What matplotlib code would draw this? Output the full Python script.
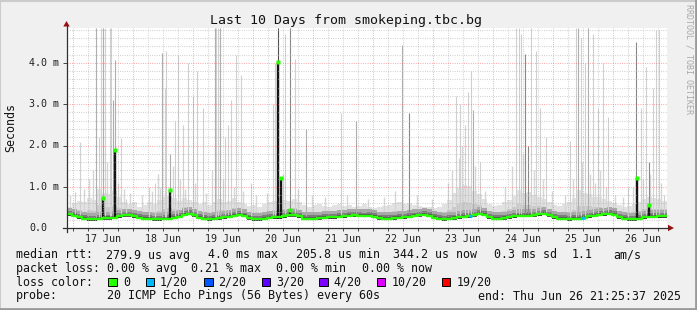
import numpy as np
import matplotlib
matplotlib.use("Agg")
import matplotlib.pyplot as plt
from matplotlib.patches import Rectangle, Polygon
from matplotlib.lines import Line2D
import matplotlib.transforms as mtransforms

# ---------------- data ----------------
title = "Last 10 Days from smokeping.tbc.bg"
day_labels = ["17 Jun", "18 Jun", "19 Jun", "20 Jun", "21 Jun",
              "22 Jun", "23 Jun", "24 Jun", "25 Jun", "26 Jun"]
span_hours = 240.0            # Jun 16 21:25:37 .. Jun 26 21:25:37
first_midnight = 2.573        # hours from start to Jun 17 00:00

y_ticks = [0, 1, 2, 3, 4]
y_tick_labels = ["0.0", "1.0 m", "2.0 m", "3.0 m", "4.0 m"]

# median rtt (ms), one value per 2 hours from the start
median_step = 2.0
median_ms = [0.33, 0.30, 0.26, 0.22, 0.21, 0.21, 0.22, 0.24, 0.24, 0.25,
             0.28, 0.31, 0.31, 0.28, 0.25, 0.23, 0.22, 0.21, 0.21, 0.22,
             0.23, 0.25, 0.27, 0.32, 0.34, 0.31, 0.25, 0.22, 0.21, 0.22,
             0.24, 0.26, 0.27, 0.30, 0.32, 0.29, 0.24, 0.21, 0.21, 0.23,
             0.25, 0.26, 0.26, 0.28, 0.31, 0.31, 0.28, 0.23, 0.22, 0.23,
             0.24, 0.25, 0.26, 0.26, 0.27, 0.28, 0.30, 0.31, 0.30, 0.29,
             0.30, 0.27, 0.24, 0.23, 0.23, 0.24, 0.25, 0.26, 0.27, 0.29,
             0.31, 0.32, 0.30, 0.25, 0.22, 0.21, 0.22, 0.24, 0.26, 0.27,
             0.28, 0.31, 0.34, 0.32, 0.26, 0.22, 0.22, 0.24, 0.26, 0.28,
             0.29, 0.29, 0.30, 0.31, 0.33, 0.34, 0.31, 0.26, 0.23, 0.22,
             0.21, 0.22, 0.23, 0.25, 0.28, 0.30, 0.32, 0.33, 0.34, 0.32,
             0.26, 0.22, 0.21, 0.21, 0.23, 0.26, 0.27, 0.27, 0.28, 0.28]

# upper edge of the light smoke (ms), one value per 2 hours
smoke_top_ms = [0.52, 0.60, 0.66, 0.62, 0.72, 0.68, 0.95, 0.86, 0.82, 0.90,
                0.76, 0.62, 0.58, 0.62, 0.52, 0.56, 0.62, 0.58, 0.68, 0.74,
                0.78, 0.72, 0.66, 0.72, 0.68, 0.62, 0.58, 0.62, 0.56, 0.62,
                0.70, 0.64, 0.66, 0.72, 0.62, 0.58, 0.54, 0.56, 0.52, 0.58,
                0.62, 0.66, 0.72, 0.68, 0.66, 0.70, 0.62, 0.56, 0.52, 0.56,
                0.58, 0.54, 0.52, 0.56, 0.58, 0.54, 0.56, 0.52, 0.54, 0.58,
                0.52, 0.48, 0.50, 0.54, 0.56, 0.60, 0.62, 0.58, 0.60, 0.56,
                0.54, 0.52, 0.50, 0.48, 0.52, 0.58, 0.68, 0.86, 0.96, 1.05,
                1.02, 0.90, 0.82, 0.70, 0.58, 0.54, 0.56, 0.62, 0.68, 0.78,
                0.92, 0.86, 0.88, 0.80, 0.76, 0.70, 0.62, 0.56, 0.54, 0.58,
                0.62, 0.72, 0.92, 0.86, 0.82, 0.76, 0.74, 0.70, 0.66, 0.60,
                0.56, 0.52, 0.54, 0.58, 0.64, 0.70, 0.76, 0.72, 0.70, 0.66]

# single ping outliers (hours from start, top in ms, darkness level 0..3)
spike_t = [3.2, 5.2, 11.9, 12.9, 13.8, 14.4, 15.2, 17.2, 17.9, 18.5,
           19.3, 21.9, 23.9, 32.8, 35.2, 38.0, 39.2, 39.9, 41.3, 43.2,
           44.5, 46.5, 48.5, 50.5, 52.3, 54.5, 59.2, 59.9, 60.5, 61.2,
           63.2, 64.5, 65.9, 67.6, 69.9, 73.9, 82.5, 83.2, 84.6, 87.2,
           89.2, 91.2, 95.9, 109.9, 115.9, 134.1, 136.8, 155.9, 157.2, 159.2,
           160.5, 161.9, 162.5, 165.2, 179.9, 180.8, 181.9, 183.2, 184.5, 185.9,
           187.9, 189.2, 191.9, 201.2, 203.9, 204.5, 205.9, 207.2, 208.5, 210.5,
           212.5, 214.5, 216.5, 224.5, 227.9, 229.9, 231.9, 232.8, 234.5, 235.9,
           236.8, 239.0]
spike_top = [0.88, 2.09, 4.85, 2.20, 4.85, 4.85, 4.85, 4.85, 4.85, 3.10,
             4.07, 2.17, 0.70, 1.00, 1.10, 4.24, 3.40, 4.30, 1.80, 2.60,
             4.20, 2.50, 4.00, 3.20, 3.80, 2.90, 4.85, 4.85, 4.85, 4.85,
             2.20, 2.50, 3.10, 4.20, 3.70, 1.10, 3.00, 4.00, 4.85, 4.70,
             4.85, 4.10, 2.40, 2.80, 2.60, 4.44, 2.80, 3.20, 3.00, 2.50,
             3.30, 3.80, 2.85, 1.60, 4.85, 4.85, 4.70, 4.23, 2.00, 4.85,
             4.30, 2.90, 2.20, 2.10, 4.85, 4.85, 4.60, 4.00, 4.85, 4.70,
             2.90, 4.00, 2.70, 1.00, 4.50, 2.90, 3.90, 1.60, 3.40, 4.80,
             4.80, 0.80]
spike_level = [0, 0, 1, 0, 0, 1, 0, 0, 0, 1,
               1, 0, 0, 0, 0, 1, 0, 0, 1, 0,
               0, 0, 0, 0, 0, 0, 1, 0, 0, 1,
               0, 0, 0, 0, 0, 0, 0, 0, 3, 0,
               2, 0, 1, 0, 1, 1, 2, 0, 0, 0,
               0, 0, 1, 0, 0, 0, 0, 2, 2, 0,
               0, 0, 0, 0, 0, 1, 0, 0, 1, 0,
               0, 0, 0, 0, 2, 0, 0, 2, 0, 0,
               0, 0]

# short light haze streaks above the smoke (hours, top ms)
haze_t = [1.5, 7.0, 9.0, 10.5, 16.2, 20.5, 22.8, 25.5, 30.2, 34.0,
          36.5, 37.2, 42.5, 45.5, 47.2, 51.2, 55.8, 58.0, 62.4, 66.8,
          70.5, 75.8, 80.2, 86.5, 92.5, 98.0, 103.5, 112.0, 120.5, 127.0,
          131.5, 140.2, 146.0, 152.5, 154.2, 156.8, 158.3, 163.4, 167.5, 175.5,
          178.2, 182.6, 186.8, 190.5, 194.2, 199.5, 202.6, 206.2, 209.4, 211.5,
          213.4, 215.6, 219.5, 222.5, 226.5, 230.5, 233.5, 237.8]
haze_top = [0.80, 0.95, 1.20, 1.40, 1.60, 1.10, 0.95, 0.85, 0.80, 0.90,
            1.30, 1.00, 1.50, 1.20, 0.95, 1.10, 0.85, 1.40, 1.20, 1.00,
            0.90, 0.80, 0.85, 1.30, 0.95, 0.80, 0.75, 0.80, 0.70, 0.75,
            0.90, 0.80, 0.70, 1.10, 1.40, 1.70, 2.00, 1.50, 0.90, 1.00,
            1.50, 1.80, 1.40, 1.20, 0.90, 0.80, 1.20, 1.60, 1.30, 1.10,
            1.40, 1.00, 0.80, 0.75, 1.00, 1.20, 1.30, 1.10]

# intervals where the median itself rose (hours, median ms)
bar_t = [14.4, 19.3, 41.3, 84.6, 85.6, 89.2, 228.2, 232.8]
bar_med = [0.73, 1.89, 0.92, 4.03, 1.21, 0.44, 1.21, 0.56]

# packet loss on the median (hours, index into loss colours)
loss_t = [161.5, 206.5]
loss_idx = [1, 1]

loss_labels = ["0", "1/20", "2/20", "3/20", "4/20", "10/20", "19/20"]
loss_colors = ["#26ff00", "#00b8ff", "#0059ff", "#5e00ff",
               "#7e00ff", "#dd00ff", "#ff0000"]

legend_rtt = ["median rtt:", "279.9 us avg", "4.0 ms max", "205.8 us min",
              "344.2 us now", "0.3 ms sd", "1.1", "am/s"]
legend_loss = ["packet loss:", "0.00 % avg", "0.21 % max", "0.00 % min",
               "0.00 % now"]
legend_probe = ["probe:", "20 ICMP Echo Pings (56 Bytes) every 60s",
                "end: Thu Jun 26 21:25:37 2025"]
watermark = "RRDTOOL / TOBI OETIKER"
ylabel = "Seconds"

# ---------------- layout (pixels) ----------------
W, H, DPI = 697, 310, 100
PX_LEFT, PX_RIGHT, PX_TOP, PX_BOTTOM = 66.5, 666.5, 28.0, 228.0
PX_PER_MS = 41.25
MONO = "DejaVu Sans Mono"
LEG_FS = 8.4
TICK_FS = 7.2

rtt_x = [16, 106.5, 208, 296.5, 393, 493.5, 572, 613.5]
loss_x = [16, 107, 191.5, 276.5, 361.5]
probe_x = [16, 107, 478.3]
box_x = [108.3, 145.7, 204.0, 261.7, 319.0, 376.7, 441.7]
boxlab_x = [123.3, 160.0, 218.0, 276.7, 333.0, 391.7, 456.7]
line_base = [258.5, 272.0, 285.5, 299.5]


def fx(x):
    return x / W


def fy(y):
    return 1 - y / H


fig = plt.figure(figsize=(W / DPI, H / DPI), dpi=DPI, facecolor="#f0f0f0")

# 3D border
fig.add_artist(Line2D([fx(0), fx(0)], [fy(0), fy(H)], color="#cbcbcb", lw=1.5))
fig.add_artist(Line2D([fx(0), fx(W)], [fy(0.5), fy(0.5)], color="#cbcbcb", lw=1.5))
fig.add_artist(Line2D([fx(W - 1), fx(W - 1)], [fy(0), fy(H)], color="#9a9a9a", lw=2))
fig.add_artist(Line2D([fx(0), fx(W)], [fy(H - 1), fy(H - 1)], color="#9a9a9a", lw=2))

ax = fig.add_axes([fx(PX_LEFT), fy(PX_BOTTOM), (PX_RIGHT - PX_LEFT) / W,
                   (PX_BOTTOM - PX_TOP) / H])
ax.set_facecolor("white")
ymax = (PX_BOTTOM - PX_TOP) / PX_PER_MS
ax.set_xlim(0, span_hours)
ax.set_ylim(0, ymax)
for s in ax.spines.values():
    s.set_visible(False)

# ---- smoke ----
med = np.array(median_ms)
tm = np.arange(len(med)) * median_step
tx = np.append(tm, span_hours)
medx = np.append(med, med[-1])
top = np.array(smoke_top_ms)
topx = np.append(top, top[-1])
lo = medx - 0.035


def base_at(ts, off):
    ts = np.asarray(ts)
    return med[np.clip((ts // median_step).astype(int), 0, len(med) - 1)] + off


ax.fill_between(tx, lo, topx, step="post", color="#e2e2e2", lw=0, zorder=1)
ht = np.array(haze_t)
ax.vlines(ht, base_at(ht, 0.1), haze_top, colors="#d6d6d6", lw=1.0, zorder=1.05)
ax.fill_between(tx, lo, medx + 0.45 * (topx - medx), step="post",
                color="#cacaca", lw=0, zorder=1.1)
ax.fill_between(tx, lo, medx + 0.16, step="post", color="#a8a8a8", lw=0, zorder=1.2)
ax.fill_between(tx, lo, medx + 0.085, step="post", color="#7c7c7c", lw=0, zorder=1.3)
ax.fill_between(tx, lo, medx + 0.04, step="post", color="#565656", lw=0, zorder=1.35)
ax.fill_between(tx, medx - 0.03, medx + 0.01, step="post", color="#343434",
                lw=0, zorder=1.4)

spike_cols = ["#d0d0d0", "#aeaeae", "#888888", "#505050"]
st = np.array(spike_t)
ax.vlines(st, base_at(st, 0.05), np.minimum(spike_top, ymax),
          colors=[spike_cols[l] for l in spike_level], lw=0.8, zorder=1.5)

bt = np.array(bar_t)
ax.vlines(bt, base_at(bt, -0.03), bar_med, colors="#151515", lw=1.7, zorder=2)

# ---- grid (on top of smoke) ----
dash = (0, (0.8, 1.4))
six = np.arange(first_midnight, span_hours, 6.0)
for t in six:
    k = (t - first_midnight) / 24
    is_day = abs(k - round(k)) < 1e-6
    ax.axvline(t, color=(1, 0.3, 0.3, 0.55) if is_day else (0.7, 0.7, 0.7, 0.7),
               lw=0.75, ls=dash, zorder=3)
for v in np.arange(0.2, ymax, 0.2):
    major = abs(v - round(v)) < 1e-6
    ax.axhline(v, color=(1, 0.3, 0.3, 0.55) if major else (0.7, 0.7, 0.7, 0.7),
               lw=0.75, ls=dash, zorder=3)

# ---- median line ----
ax.step(tx, medx, where="post", color=loss_colors[0], lw=1.7, zorder=4)
ax.plot(bt, bar_med, "s", ms=2.2, color=loss_colors[0], mec="none", zorder=4.5)
lt = np.array(loss_t)
ax.hlines(base_at(lt, 0.0), lt - 0.7, lt + 0.7,
          colors=[loss_colors[i] for i in loss_idx], lw=1.9, zorder=4.6)

# ---- ticks ----
ax.set_xticks(six)
ax.set_xticklabels([])
ax.set_yticks(y_ticks)
ax.set_yticklabels([])
ax.tick_params(axis="x", direction="out", length=2.2, width=0.7, color="#444444")
ax.tick_params(axis="y", direction="out", length=3.0, width=0.7, color="#444444")

bt_x = mtransforms.blended_transform_factory(ax.transData, fig.transFigure)
for i, lab in enumerate(day_labels):
    ax.text(first_midnight + 12 + 24 * i, fy(241.5), lab, transform=bt_x,
            ha="center", va="baseline", fontsize=TICK_FS, family=MONO,
            color="#222222", clip_on=False)
bt_y = mtransforms.blended_transform_factory(fig.transFigure, ax.transData)
for v, lab in zip(y_ticks, y_tick_labels):
    ax.text(fx(29), v, lab, transform=bt_y, ha="left", va="center",
            fontsize=TICK_FS, family=MONO, color="#222222", clip_on=False)

# ---- axis lines and arrows ----
axis_col = "#303030"
arrow_col = "#9a1010"
fig.add_artist(Line2D([fx(63), fx(669)], [fy(PX_BOTTOM), fy(PX_BOTTOM)],
                      color=axis_col, lw=0.9))
fig.add_artist(Line2D([fx(PX_LEFT), fx(PX_LEFT)], [fy(231.5), fy(25)],
                      color=axis_col, lw=0.9))
fig.add_artist(Polygon([[fx(PX_LEFT - 3.2), fy(26.5)], [fx(PX_LEFT + 3.2), fy(26.5)],
                        [fx(PX_LEFT), fy(21)]], closed=True, color=arrow_col, lw=0))
fig.add_artist(Polygon([[fx(668), fy(PX_BOTTOM - 3.2)], [fx(668), fy(PX_BOTTOM + 3.2)],
                        [fx(674), fy(PX_BOTTOM)]], closed=True, color=arrow_col, lw=0))

# ---- texts ----
fig.text(fx(346), fy(24), title, ha="center", va="baseline", fontsize=9.5,
         family=MONO, color="#111111")
fig.text(fx(10.5), fy(128), ylabel, ha="center", va="center", rotation=90,
         fontsize=LEG_FS, family=MONO, color="#111111")
fig.text(fx(689.5), fy(4), watermark, ha="center", va="top", rotation=270,
         fontsize=6.0, family=MONO, color="#a8a8a8")

for txt, x in zip(legend_rtt, rtt_x):
    fig.text(fx(x), fy(line_base[0]), txt, ha="left", va="baseline",
             fontsize=LEG_FS, family=MONO, color="#111111")
for txt, x in zip(legend_loss, loss_x):
    fig.text(fx(x), fy(line_base[1]), txt, ha="left", va="baseline",
             fontsize=LEG_FS, family=MONO, color="#111111")
fig.text(fx(16), fy(line_base[2]), "loss color:", ha="left", va="baseline",
         fontsize=LEG_FS, family=MONO, color="#111111")
for lab, col, bx, lx in zip(loss_labels, loss_colors, box_x, boxlab_x):
    fig.add_artist(Rectangle((fx(bx), fy(286)), 8.5 / W, 8.5 / H,
                             facecolor=col, edgecolor="#000000", lw=0.7))
    fig.text(fx(lx), fy(line_base[2]), lab, ha="left", va="baseline",
             fontsize=LEG_FS, family=MONO, color="#111111")
for txt, x in zip(legend_probe, probe_x):
    fig.text(fx(x), fy(line_base[3]), txt, ha="left", va="baseline",
             fontsize=LEG_FS, family=MONO, color="#111111")

fig.savefig("out.png", dpi=DPI, facecolor=fig.get_facecolor())
